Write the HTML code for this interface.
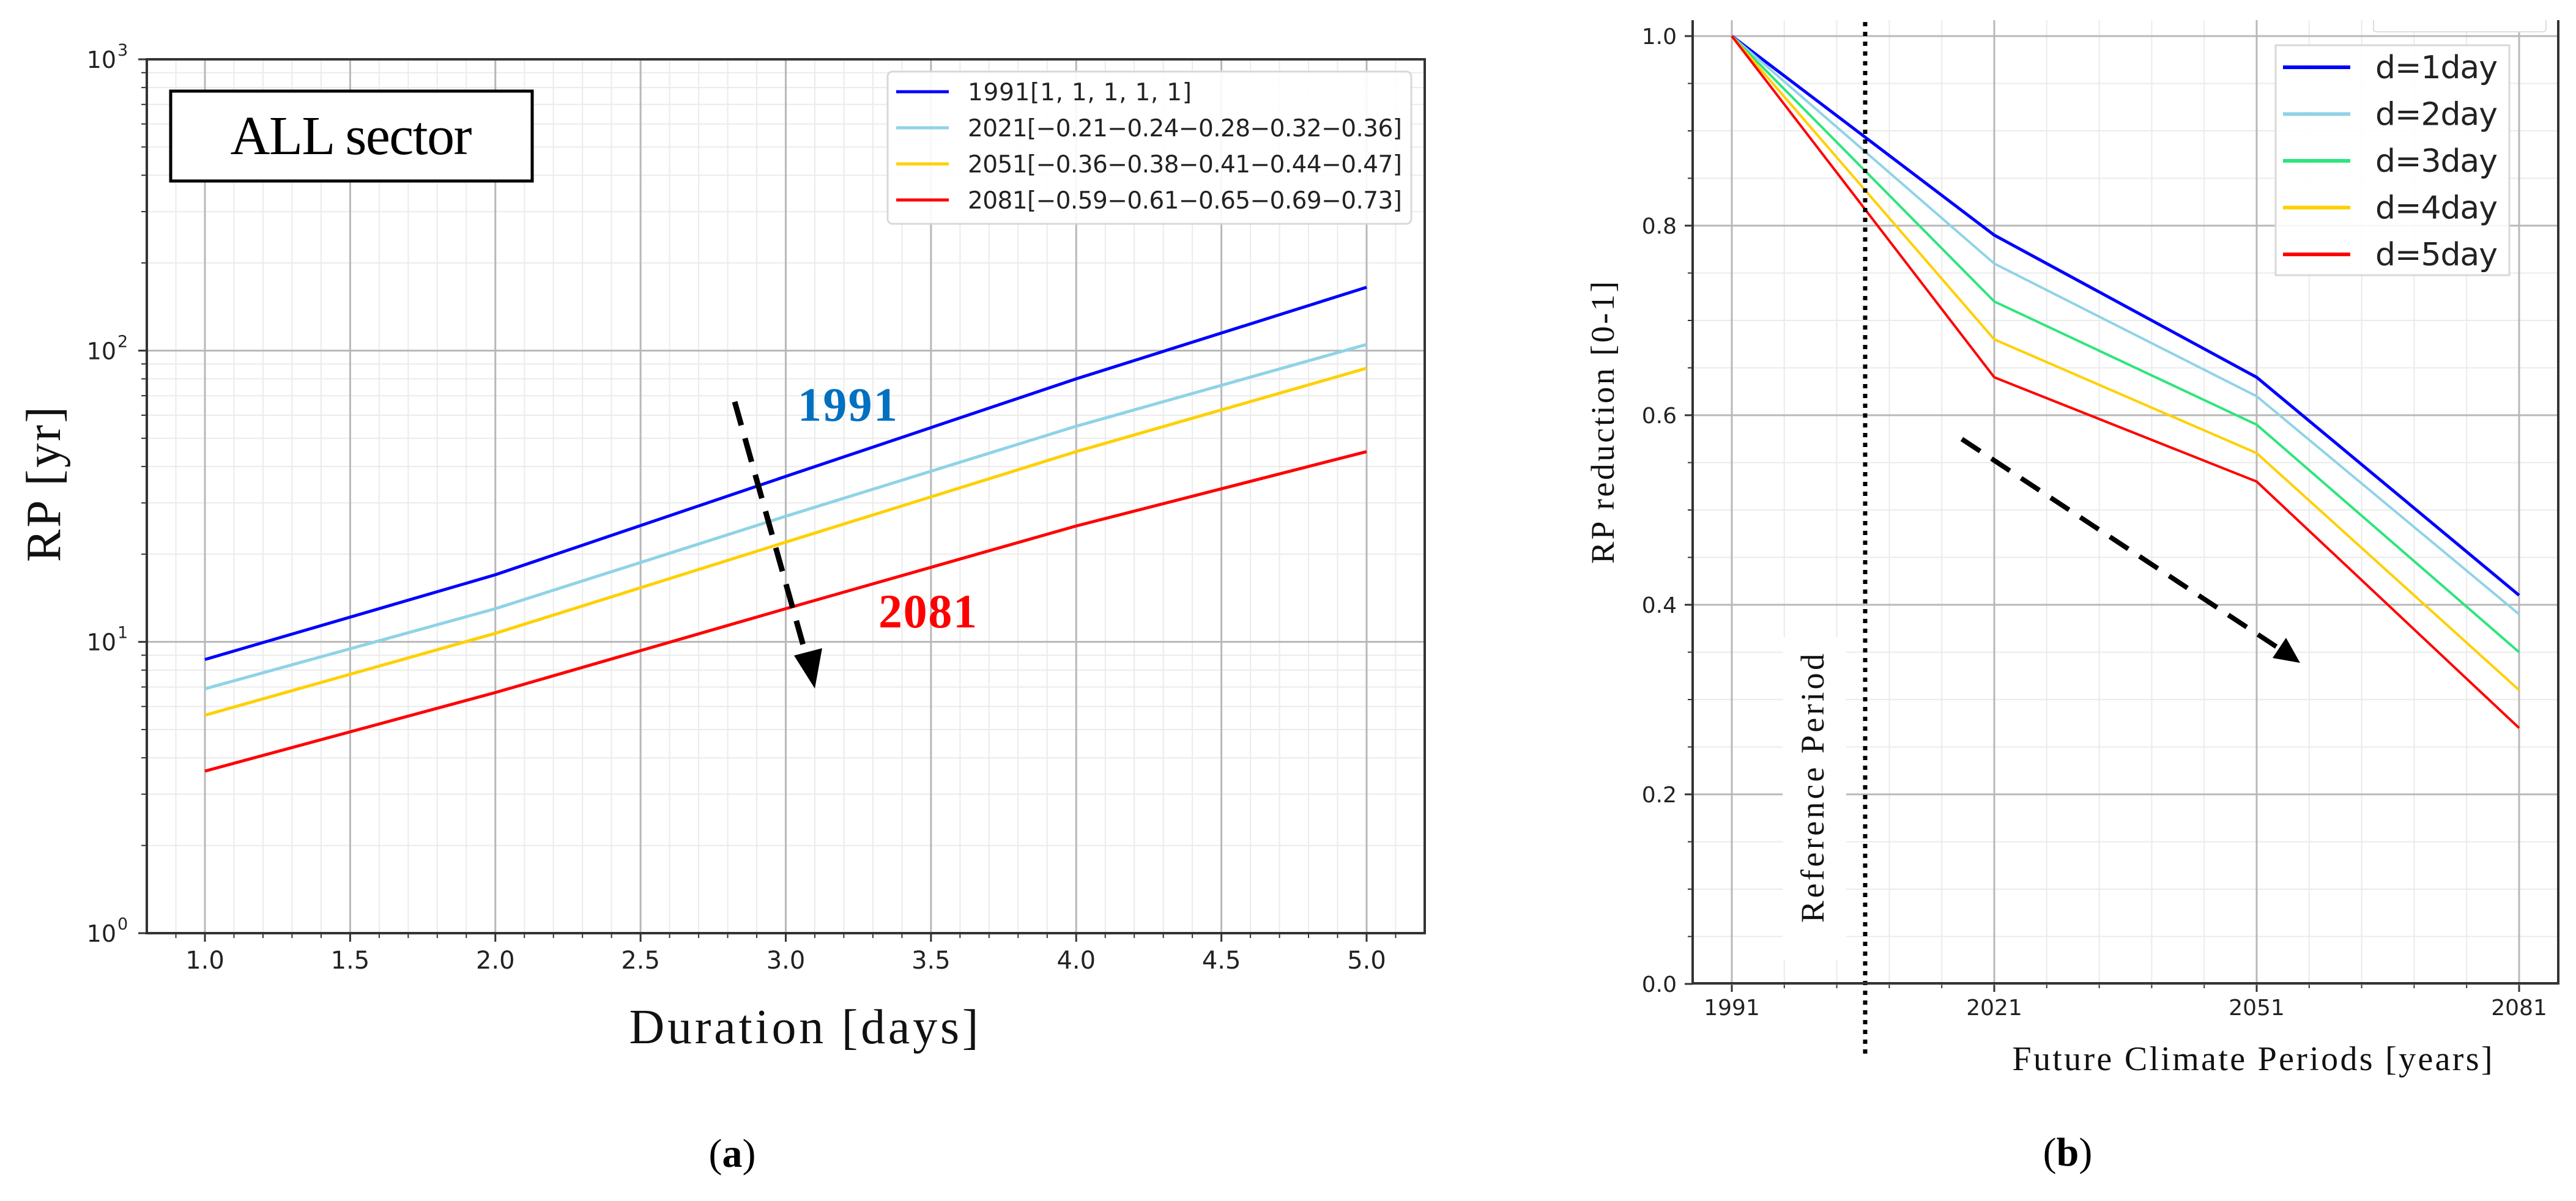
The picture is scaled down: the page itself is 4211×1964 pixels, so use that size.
<!DOCTYPE html>
<html><head><meta charset="utf-8"><title>RP charts</title>
<style>html,body{margin:0;padding:0;background:#fff}svg{display:block}</style></head>
<body>
<svg id="fig" xmlns="http://www.w3.org/2000/svg" width="4211" height="1964" viewBox="0 0 4211 1964">
<rect width="4211" height="1964" fill="#fff"/>
<g id="left"></g>
<g id="right"></g>
</svg>
<script>
// ---- Chart (a) data ----
const durations = [1, 2, 3, 4, 5];
const rp1991 = [8.7, 17, 37, 80, 165];
const rp2021 = [6.9, 13, 27, 55, 105];
const rp2051 = [5.6, 10.7, 22, 45, 87];
const rp2081 = [3.6, 6.7, 13, 25, 45];
const legendA = ["1991[1, 1, 1, 1, 1]", "2021[\u22120.21\u22120.24\u22120.28\u22120.32\u22120.36]", "2051[\u22120.36\u22120.38\u22120.41\u22120.44\u22120.47]", "2081[\u22120.59\u22120.61\u22120.65\u22120.69\u22120.73]"];
const xTicksA = ["1.0","1.5","2.0","2.5","3.0","3.5","4.0","4.5","5.0"];
const yExpA = [0, 1, 2, 3];
// ---- Chart (b) data ----
const periods = [1991, 2021, 2051, 2081];
const d1 = [1, 0.79, 0.64, 0.41];
const d2 = [1, 0.76, 0.62, 0.39];
const d3 = [1, 0.72, 0.59, 0.35];
const d4 = [1, 0.68, 0.56, 0.31];
const d5 = [1, 0.64, 0.53, 0.27];
const legendB = ["d=1day","d=2day","d=3day","d=4day","d=5day"];
const yTicksB = ["0.0","0.2","0.4","0.6","0.8","1.0"];

const NS = "http://www.w3.org/2000/svg";
function mk(parent, tag, attrs, text) {
  const e = document.createElementNS(NS, tag);
  for (const k in attrs) e.setAttribute(k, attrs[k]);
  if (text !== undefined) e.textContent = text;
  parent.appendChild(e);
  return e;
}
const SANS = '"DejaVu Sans", "Liberation Sans", sans-serif';
const SERIF = '"Liberation Serif", serif';

// ================= Chart (a) =================
(function () {
  const g = document.getElementById('left');
  const L = 240, R = 2329, T = 97, B = 1526;
  const xs = v => 335 + (v - 1) * 474.75;
  const ys = v => B - Math.log10(v) * (B - T) / 3;
  for (let v = 0.8; v <= 5.21; v += 0.1) {
    const x = xs(v);
    if (x < L || x > R) continue;
    const gl = mk(g, 'line', {x1: x, x2: x, y1: T, y2: B, stroke: '#ebebeb', 'stroke-width': 2});
    
    
  }
  for (let d = 0; d < 3; d++) for (let m = 2; m <= 9; m++) {
    const y = ys(m * Math.pow(10, d));
    const gl = mk(g, 'line', {x1: L, x2: R, y1: y, y2: y, stroke: '#ebebeb', 'stroke-width': 2});
    
    
    const tk = mk(g, 'line', {x1: L - 9, x2: L, y1: y, y2: y, stroke: '#333', 'stroke-width': 2});
    
    
  }
  xTicksA.forEach(t => {
    const x = xs(parseFloat(t));
    const gl = mk(g, 'line', {x1: x, x2: x, y1: T, y2: B, stroke: '#b8b8b8', 'stroke-width': 3});
    
    
    const tk = mk(g, 'line', {x1: x, x2: x, y1: B, y2: B + 14, stroke: '#333', 'stroke-width': 3});
    
    
    const tl = mk(g, 'text', {x: x, y: 1584, 'font-size': 40, 'font-family': SANS, 'text-anchor': 'middle', fill: '#222'}, t);
    
    
  });
  for (let v = 0.9; v <= 5.11; v += 0.1) {
    const x = xs(v);
    const tk = mk(g, 'line', {x1: x, x2: x, y1: B, y2: B + 8, stroke: '#333', 'stroke-width': 2});
    
    
  }
  yExpA.forEach(p => {
    const y = ys(Math.pow(10, p));
    if (p > 0 && p < 3) {
      const gl = mk(g, 'line', {x1: L, x2: R, y1: y, y2: y, stroke: '#b8b8b8', 'stroke-width': 3});
      
      
    }
    const tk = mk(g, 'line', {x1: L - 14, x2: L, y1: y, y2: y, stroke: '#333', 'stroke-width': 3});
    
    
    const tl = mk(g, 'text', {x: 190, y: y + 14, 'font-size': 38, 'font-family': SANS, 'text-anchor': 'end', fill: '#222'}, '10');
    
    
    const sp = mk(g, 'text', {x: 192, y: y - 6, 'font-size': 27, 'font-family': SANS, fill: '#222'}, String(p));
    
    
  });
  const seriesA = [rp1991, rp2021, rp2051, rp2081];
  const colA = ['#0000ff', '#8fd3e6', '#ffd000', '#ff0000'];
  const namesA = ['line-1991', 'line-2021', 'line-2051', 'line-2081'];
  seriesA.forEach((s, i) => {
    const pts = s.map((v, j) => xs(durations[j]) + ',' + ys(v)).join(' ');
    const pl = mk(g, 'polyline', {points: pts, fill: 'none', stroke: colA[i], 'stroke-width': 5});
    
    
  });
  const sp = mk(g, 'rect', {x: L, y: T, width: R - L, height: B - T, fill: 'none', stroke: '#333', 'stroke-width': 4});
  
  
  const bx = mk(g, 'rect', {x: 279, y: 149, width: 591, height: 147, fill: '#fff', stroke: '#000', 'stroke-width': 5});
  
  
  const bt = mk(g, 'text', {x: 574, y: 252, 'font-size': 90, 'font-family': SERIF, 'text-anchor': 'middle', textLength: 395, fill: '#000'}, 'ALL sector');
  
  
  const lg = mk(g, 'rect', {x: 1451, y: 117, width: 856, height: 249, rx: 8, fill: '#fff', 'fill-opacity': 0.9, stroke: '#d8d8d8', 'stroke-width': 3});
  
  
  const lw = [366, 710, 710, 710];
  legendA.forEach((t, i) => {
    const y = 150 + i * 59;
    const ln = mk(g, 'line', {x1: 1465, x2: 1551, y1: y, y2: y, stroke: colA[i], 'stroke-width': 5});
    
    
    const tx = mk(g, 'text', {x: 1582, y: y + 14, 'font-size': 39, 'font-family': SANS, textLength: lw[i], fill: '#222'}, t);
    
    
  });
  const a1 = mk(g, 'text', {x: 1304, y: 688, 'font-size': 78, 'font-weight': 'bold', 'font-family': SERIF, fill: '#0070c0', textLength: 163}, '1991');
  
  
  const a2 = mk(g, 'text', {x: 1436, y: 1026, 'font-size': 78, 'font-weight': 'bold', 'font-family': SERIF, fill: '#ff0000', textLength: 161}, '2081');
  
  
  const ar = mk(g, 'line', {x1: 1201, y1: 657, x2: 1320, y2: 1080, stroke: '#000', 'stroke-width': 9, 'stroke-dasharray': '40,22'});
  
  
  const ah = mk(g, 'polygon', {points: '1332,1126 1298,1072 1344,1060', fill: '#000'});
  
  
  const xt = mk(g, 'text', {x: 1314, y: 1706, 'font-size': 80, 'font-family': SERIF, 'text-anchor': 'middle', textLength: 571, fill: '#111'}, 'Duration [days]');
  
  
  const yt = mk(g, 'text', {x: 0, y: 0, 'font-size': 80, 'font-family': SERIF, 'text-anchor': 'middle', textLength: 254, fill: '#111', transform: 'translate(98,792) rotate(-90)'}, 'RP [yr]');
  
  
  const cap = mk(g, 'text', {x: 1197, y: 1908, 'font-size': 66, 'font-family': SERIF, 'text-anchor': 'middle', fill: '#000'}, '');
  
  
  mk(cap, 'tspan', {}, '(');
  mk(cap, 'tspan', {'font-weight': 'bold'}, 'a');
  mk(cap, 'tspan', {}, ')');
})();

// ================= Chart (b) =================
(function () {
  const g = document.getElementById('right');
  const L = 2767, R = 4182, T = 33, B = 1608;
  const xs = v => 2831 + (v - 1991) * 14.3;
  const ys = v => 59 + (1 - v) * 1550;
  for (let yr = 1991; yr <= 2085; yr += 6) {
    const x = xs(yr);
    const gl = mk(g, 'line', {x1: x, x2: x, y1: T, y2: B, stroke: '#ebebeb', 'stroke-width': 2});
    
    
    const tk = mk(g, 'line', {x1: x, x2: x, y1: B, y2: B + 8, stroke: '#333', 'stroke-width': 2});
    
    
  }
  for (let v = 0.05; v < 1.0; v += 0.05) {
    const y = ys(v);
    const gl = mk(g, 'line', {x1: L, x2: R, y1: y, y2: y, stroke: '#ebebeb', 'stroke-width': 2});
    
    
    const tk = mk(g, 'line', {x1: L - 8, x2: L, y1: y, y2: y, stroke: '#333', 'stroke-width': 2});
    
    
  }
  periods.forEach(p => {
    const x = xs(p);
    const gl = mk(g, 'line', {x1: x, x2: x, y1: T, y2: B, stroke: '#b8b8b8', 'stroke-width': 3});
    
    
    const tk = mk(g, 'line', {x1: x, x2: x, y1: B, y2: B + 14, stroke: '#333', 'stroke-width': 3});
    
    
    const tl = mk(g, 'text', {x: x, y: 1660, 'font-size': 36, 'font-family': SANS, 'text-anchor': 'middle', fill: '#222'}, String(p));
    
    
  });
  yTicksB.forEach(t => {
    const y = ys(parseFloat(t));
    const gl = mk(g, 'line', {x1: L, x2: R, y1: y, y2: y, stroke: '#b8b8b8', 'stroke-width': 3});
    
    
    const tk = mk(g, 'line', {x1: L - 13, x2: L, y1: y, y2: y, stroke: '#333', 'stroke-width': 3});
    
    
    const tl = mk(g, 'text', {x: 2741, y: y + 13, 'font-size': 36, 'font-family': SANS, 'text-anchor': 'end', fill: '#222'}, t);
    
    
  });
  const rb = mk(g, 'rect', {x: 2914, y: 1042, width: 104, height: 527, fill: '#fff'});
  
  
  const rt = mk(g, 'text', {x: 0, y: 0, 'font-size': 54, 'font-family': SERIF, 'text-anchor': 'middle', textLength: 440, fill: '#111', transform: 'translate(2981,1289) rotate(-90)'}, 'Reference Period');
  
  
  const seriesB = [d1, d2, d3, d4, d5];
  const colB = ['#0000ff', '#8fd3e6', '#2ee57c', '#ffd000', '#ff0000'];
  const namesB = ['line-d1', 'line-d2', 'line-d3', 'line-d4', 'line-d5'];
  seriesB.forEach((s, i) => {
    const pts = s.map((v, j) => xs(periods[j]) + ',' + ys(v)).join(' ');
    const pl = mk(g, 'polyline', {points: pts, fill: 'none', stroke: colB[i], 'stroke-width': i === 0 ? 5 : 4});
    
    
  });
  const dl = mk(g, 'line', {x1: 3049, x2: 3049, y1: 36, y2: 1726, stroke: '#000', 'stroke-width': 7, 'stroke-dasharray': '7,9'});
  
  
  const s1 = mk(g, 'polyline', {points: `${L},${T} ${L},${B} ${R},${B} ${R},${T}`, fill: 'none', stroke: '#333', 'stroke-width': 4});
  
  
  const fb = mk(g, 'path', {d: 'M3880,33 L3880,48 Q3880,52 3886,52 L4156,52 Q4162,52 4162,46 L4162,33', fill: '#fff', stroke: '#ddd', 'stroke-width': 2});
  
  
  const lg = mk(g, 'rect', {x: 3720, y: 74, width: 382, height: 376, fill: '#fff', 'fill-opacity': 0.9, stroke: '#d8d8d8', 'stroke-width': 3});
  
  
  legendB.forEach((t, i) => {
    const y = 110 + i * 76.5;
    const ln = mk(g, 'line', {x1: 3732, x2: 3842, y1: y, y2: y, stroke: colB[i], 'stroke-width': 6});
    
    
    const tx = mk(g, 'text', {x: 3883, y: y + 18, 'font-size': 52, 'font-family': SANS, textLength: 200, fill: '#222'}, t);
    
    
  });
  const ar = mk(g, 'line', {x1: 3207, y1: 718, x2: 3728, y2: 1062, stroke: '#000', 'stroke-width': 8, 'stroke-dasharray': '36,22'});
  
  
  const ah = mk(g, 'polygon', {points: '3760,1084 3715,1076 3737,1043', fill: '#000'});
  
  
  const xt = mk(g, 'text', {x: 3682, y: 1750, 'font-size': 56, 'font-family': SERIF, 'text-anchor': 'middle', textLength: 785, fill: '#111'}, 'Future Climate Periods [years]');
  
  
  const yt = mk(g, 'text', {x: 0, y: 0, 'font-size': 54, 'font-family': SERIF, 'text-anchor': 'middle', textLength: 462, fill: '#111', transform: 'translate(2638,691) rotate(-90)'}, 'RP reduction [0-1]');
  
  
  const cap = mk(g, 'text', {x: 3380, y: 1906, 'font-size': 66, 'font-family': SERIF, 'text-anchor': 'middle', fill: '#000'}, '');
  
  
  mk(cap, 'tspan', {}, '(');
  mk(cap, 'tspan', {'font-weight': 'bold'}, 'b');
  mk(cap, 'tspan', {}, ')');
})();
</script>
</body></html>
